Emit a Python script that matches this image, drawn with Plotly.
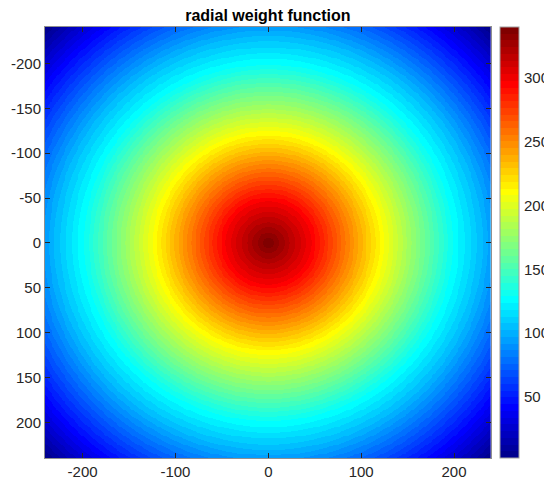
import numpy as np
import plotly.graph_objects as go

# ---- data ----
# radial profile of the weight (distance from centre -> weight value)
profile_radius = [0, 47, 120, 197, 230, 339.5]
profile_weight = [340, 297, 213, 130, 103, 2]
# pixel grid coordinates
x_coords = np.arange(-240, 240)
y_coords = np.arange(-240, 240)
# tick labels
x_ticks = [-200, -100, 0, 100, 200]
y_ticks = [-200, -150, -100, -50, 0, 50, 100, 150, 200]
cbar_ticks = [50, 100, 150, 200, 250, 300]
title_text = "radial weight function"

# ---- build field from the radial profile ----
XX, YY = np.meshgrid(x_coords, y_coords)
R = np.sqrt(XX**2 + YY**2)
Z = np.interp(R, profile_radius, profile_weight)
zmin = float(Z.min())
zmax = float(Z.max())


# MATLAB jet(64)
def matlab_jet(m=64):
    n = int(np.ceil(m / 4))
    u = np.concatenate([np.arange(1, n + 1) / n, np.ones(n - 1), np.arange(n, 0, -1) / n])
    g = int(np.ceil(n / 2)) - (1 if m % 4 == 1 else 0) + np.arange(1, len(u) + 1)
    r = g + n
    b = g - n
    J = np.zeros((m, 3))
    for idx, val in zip(r, u):
        if 1 <= idx <= m:
            J[idx - 1, 0] = val
    for idx, val in zip(g, u):
        if 1 <= idx <= m:
            J[idx - 1, 1] = val
    for idx, val in zip(b, u):
        if 1 <= idx <= m:
            J[idx - 1, 2] = val
    return J


J = matlab_jet(64)
colorscale = []
m = len(J)
for i, c in enumerate(J):
    col = "rgb(%d,%d,%d)" % tuple(np.round(c * 255).astype(int))
    colorscale.append([i / m, col])
    colorscale.append([(i + 1) / m, col])

font_fam = "Liberation Sans, Arial, sans-serif"
txt_col = "#262626"

W, H = 544, 482
ML, MR, MT, MB = 45, 0, 27, 24
paper_w = W - ML - MR
plot_w = 445.7
cb_left = 455.0   # px from left of paper area
cb_thick = 19

fig = go.Figure()
fig.add_trace(
    go.Heatmap(
        x=x_coords,
        y=y_coords,
        z=Z,
        colorscale=colorscale,
        zmin=zmin,
        zmax=zmax,
        showscale=True,
        colorbar=dict(
            x=cb_left / paper_w,
            xanchor="left",
            y=0.5,
            yanchor="middle",
            len=1.0,
            lenmode="fraction",
            thickness=cb_thick,
            thicknessmode="pixels",
            xpad=0,
            ypad=0,
            outlinewidth=1,
            outlinecolor="#a0a0a0",
            showticklabels=False,
            ticks="",
        ),
        hoverinfo="skip",
    )
)
# empty helper trace so the colour-scale label axis is drawn
fig.add_trace(go.Scatter(x=[None], y=[None], yaxis="y2", mode="markers",
                         showlegend=False, hoverinfo="skip"))

axis_common = dict(
    ticks="inside",
    ticklen=5,
    tickcolor=txt_col,
    tickwidth=1,
    showline=True,
    linecolor="#909090",
    linewidth=1,
    mirror="ticks",
    showgrid=False,
    zeroline=False,
    automargin=False,
    tickfont=dict(family=font_fam, size=15, color=txt_col),
)

fig.update_xaxes(range=[-240.5, 239.5], tickvals=x_ticks, domain=[0, plot_w / paper_w],
                 ticktext=[str(v) for v in x_ticks], **axis_common)
fig.update_yaxes(range=[239.5, -240.5], tickvals=y_ticks,
                 ticktext=[str(v) for v in y_ticks], **axis_common)

fig.update_layout(
    width=W,
    height=H,
    margin=dict(l=ML, r=MR, t=MT, b=MB),
    paper_bgcolor="white",
    plot_bgcolor="white",
    template="none",
    yaxis2=dict(
        overlaying="y",
        anchor="free",
        side="right",
        position=(cb_left + cb_thick) / paper_w,
        range=[zmin, zmax],
        tickvals=cbar_ticks,
        ticktext=[str(v) for v in cbar_ticks],
        ticks="inside",
        ticklen=3,
        tickcolor=txt_col,
        ticklabelstandoff=4,
        showline=False,
        showgrid=False,
        zeroline=False,
        automargin=False,
        tickfont=dict(family=font_fam, size=15, color=txt_col),
    ),
    title=dict(
        text="<b>%s</b>" % title_text,
        x=(ML + plot_w / 2) / W,
        xref="container",
        xanchor="center",
        y=1 - 15.5 / H,
        yref="container",
        yanchor="middle",
        font=dict(family=font_fam, size=16, color="black"),
    ),
)

fig.write_html("out.html",
               config={"displayModeBar": False},
               post_script="document.body.style.margin='0px';document.body.style.overflow='hidden';")
